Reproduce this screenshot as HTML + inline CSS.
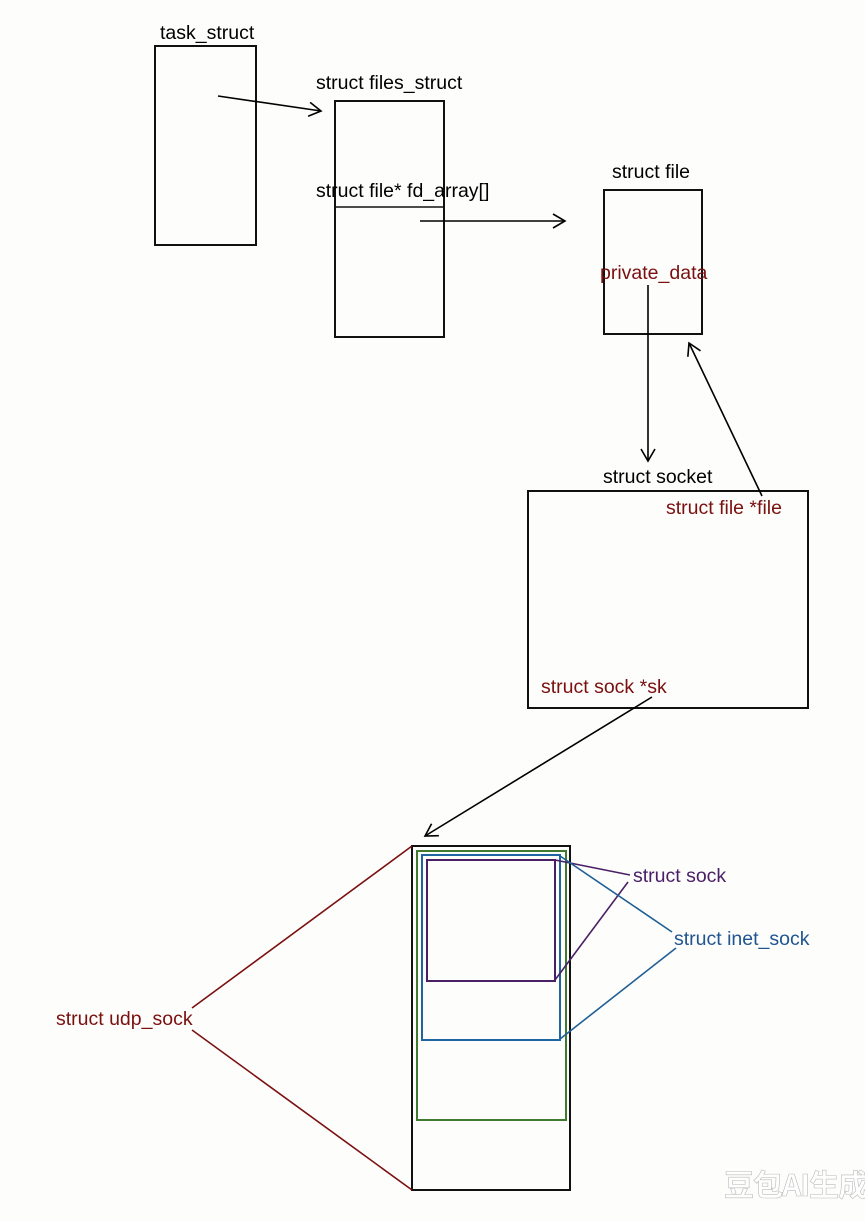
<!DOCTYPE html>
<html><head><meta charset="utf-8"><style>
html,body{margin:0;padding:0;background:#fdfdfb;}
svg{display:block}
text{font-family:"Liberation Sans","Noto Sans CJK SC",sans-serif;font-size:19.5px;}
</style></head><body>
<svg width="865" height="1221" viewBox="0 0 865 1221" xmlns="http://www.w3.org/2000/svg">
<rect width="865" height="1221" fill="#fdfdfb"/>
<defs>
<marker id="a" markerWidth="20" markerHeight="20" refX="14" refY="8" orient="auto" markerUnits="userSpaceOnUse">
<path d="M2,1 L14,8 L2,15" fill="none" stroke="#000" stroke-width="1.6"/>
</marker>
</defs>
<g fill="none" stroke="#111" stroke-width="2">
<rect x="155" y="46" width="101" height="199"/>
<rect x="335" y="101" width="109" height="236"/>
<line x1="335" y1="207" x2="444" y2="207" stroke-width="1.5"/>
<rect x="604" y="190" width="98" height="144"/>
<rect x="528" y="491" width="280" height="217"/>
</g>
<g fill="none" stroke="#000" stroke-width="1.6">
<line x1="218" y1="96" x2="321" y2="111" marker-end="url(#a)"/>
<line x1="420" y1="221" x2="565" y2="221" marker-end="url(#a)"/>
<line x1="648" y1="285" x2="648" y2="461" marker-end="url(#a)"/>
<line x1="762" y1="496" x2="689" y2="343" marker-end="url(#a)"/>
<line x1="652" y1="697" x2="425" y2="836" marker-end="url(#a)"/>
</g>
<text x="160" y="39" fill="#000">task_struct</text>
<text x="316" y="89" fill="#000">struct files_struct</text>
<text x="316" y="197" fill="#000">struct file* fd_array[]</text>
<text x="612" y="178" fill="#000">struct file</text>
<text x="600" y="279" fill="#7a1010">private_data</text>
<text x="603" y="483" fill="#000">struct socket</text>
<text x="666" y="514" fill="#7a1010">struct file *file</text>
<text x="541" y="693" fill="#7a1010">struct sock *sk</text>
<rect x="412" y="846" width="158" height="344" fill="none" stroke="#111" stroke-width="2"/>
<rect x="417" y="851" width="149" height="269" fill="none" stroke="#3f7a30" stroke-width="2"/>
<rect x="422" y="855" width="138" height="185" fill="none" stroke="#1f66a0" stroke-width="2"/>
<rect x="427" y="860" width="128" height="121" fill="none" stroke="#4a1f66" stroke-width="2"/>
<g fill="none" stroke-width="1.6">
<line x1="555" y1="860" x2="630" y2="875" stroke="#4a1f66"/>
<line x1="555" y1="980" x2="628" y2="882" stroke="#4a1f66"/>
<line x1="560" y1="856" x2="672" y2="932" stroke="#1f5f95"/>
<line x1="560" y1="1039" x2="676" y2="948" stroke="#1f5f95"/>
<line x1="412" y1="846" x2="192" y2="1008" stroke="#7a1010"/>
<line x1="412" y1="1190" x2="192" y2="1030" stroke="#7a1010"/>
</g>
<text x="633" y="882" fill="#4a1f66">struct sock</text>
<text x="674" y="945" fill="#1f5590">struct inet_sock</text>
<text x="56" y="1025" fill="#7a1010">struct udp_sock</text>
<text x="724" y="1196" fill="#fff" stroke="#bbb" stroke-width="0.6" font-weight="bold" font-size="30" letter-spacing="-1" style="font-family:'Noto Sans CJK SC',sans-serif;font-size:30px">豆包AI生成</text>
</svg>
</body></html>
